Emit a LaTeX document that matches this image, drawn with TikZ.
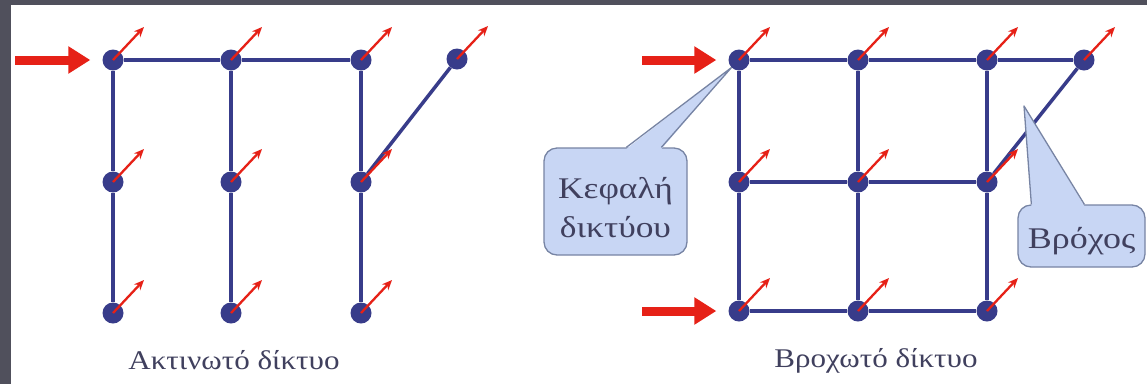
\documentclass[tikz,border=0pt]{standalone}
\usepackage{fontspec}
\usepackage{graphicx}
\setmainfont{Liberation Serif}
\usetikzlibrary{arrows.meta,calc}
\definecolor{navy}{HTML}{383C8A}
\definecolor{redc}{HTML}{E62117}
\definecolor{framec}{HTML}{50505C}
\definecolor{callfill}{HTML}{C8D6F4}
\definecolor{callline}{HTML}{7784A4}
\definecolor{txt}{HTML}{40405E}
\newcommand{\widen}[2]{\scalebox{#1}[1]{#2}}
\begin{document}
\begin{tikzpicture}[x=1pt,y=-1pt,
 dot/.style={circle,fill=navy,inner sep=0pt,minimum size=21pt},
 wire/.style={draw=navy,line width=3.5pt},
 spark/.style={draw=redc,line width=2.3pt,-{Stealth[length=10pt,width=8.5pt]}},
 feed/.style={draw=redc,line width=9pt,-{Triangle[length=22pt,width=26pt]},shorten >=12pt},
 bubble/.style={draw=callline,line width=1.3pt,fill=callfill,rounded corners=13pt,text=txt,font=\fontsize{30}{39}\selectfont,align=center,inner sep=0pt},
 ptrfill/.style={fill=callfill},
 ptrline/.style={draw=callline,line width=1.3pt,line join=round},
 caption/.style={text=txt,font=\fontsize{27}{30}\selectfont,anchor=base}]
\useasboundingbox (0,0) rectangle (1147,384);
\fill[white] (0,0) rectangle (1147,384);
\fill[framec] (0,0) rectangle (11,384);
\fill[framec] (0,0) rectangle (1147,5);

% left network nodes
\node[dot] (ln11) at (113,60) {};
\node[dot] (ln12) at (231,60) {};
\node[dot] (ln13) at (361,60) {};
\node[dot] (ln14) at (457,59) {};
\node[dot] (ln21) at (113,182) {};
\node[dot] (ln22) at (231,182) {};
\node[dot] (ln23) at (361,182) {};
\node[dot] (ln31) at (113,313) {};
\node[dot] (ln32) at (231,313) {};
\node[dot] (ln33) at (361,313) {};
% right network nodes
\node[dot] (rn11) at (739,60) {};
\node[dot] (rn12) at (858,60) {};
\node[dot] (rn13) at (987,60) {};
\node[dot] (rn14) at (1084,60) {};
\node[dot] (rn21) at (739,182) {};
\node[dot] (rn22) at (858,182) {};
\node[dot] (rn23) at (987,182) {};
\node[dot] (rn31) at (739,311) {};
\node[dot] (rn32) at (858,311) {};
\node[dot] (rn33) at (987,311) {};

% left wires
\draw[wire] (ln11) -- (ln12);
\draw[wire] (ln12) -- (ln13);
\draw[wire] (ln11) -- (ln21);
\draw[wire] (ln21) -- (ln31);
\draw[wire] (ln12) -- (ln22);
\draw[wire] (ln22) -- (ln32);
\draw[wire] (ln13) -- (ln23);
\draw[wire] (ln23) -- (ln33);
\draw[wire] (ln14) -- (ln23);
% right wires
\draw[wire] (rn11) -- (rn12);
\draw[wire] (rn12) -- (rn13);
\draw[wire] (rn13) -- (rn14);
\draw[wire] (rn21) -- (rn22);
\draw[wire] (rn22) -- (rn23);
\draw[wire] (rn31) -- (rn32);
\draw[wire] (rn32) -- (rn33);
\draw[wire] (rn11) -- (rn21);
\draw[wire] (rn21) -- (rn31);
\draw[wire] (rn12) -- (rn22);
\draw[wire] (rn22) -- (rn32);
\draw[wire] (rn13) -- (rn23);
\draw[wire] (rn23) -- (rn33);
\draw[wire] (rn14) -- (rn23);

% red outgoing arrows
\foreach \n in {ln11,ln12,ln13,ln14,ln21,ln22,ln23,ln31,ln32,ln33,
                rn11,rn12,rn13,rn14,rn21,rn22,rn23,rn31,rn32,rn33}
  \draw[spark] (\n.center) -- ++(31,-33);

% feeding arrows
\coordinate (inL) at (15,60);
\coordinate (inRa) at (642,60);
\coordinate (inRb) at (642,311);
\draw[feed] (inL) -- (ln11);
\draw[feed] (inRa) -- (rn11);
\draw[feed] (inRb) -- (rn31);

% callouts
\node[bubble,minimum width=143pt,minimum height=107pt] (head) at (615.5,201.5)
  {\raisebox{0pt}[71pt][0pt]{\begin{tabular}[b]{@{}c@{}}\widen{1.18}{Κεφαλή}\\\widen{1.18}{δικτύου}\end{tabular}}};
\fill[ptrfill] ($(head.north west)+(83,1.6)$) -- (rn11.south west) -- ($(head.north west)+(118,1.6)$) -- cycle;
\draw[ptrline] ($(head.north west)+(83,0)$) -- (rn11.south west) -- ($(head.north west)+(118,0)$);

\node[bubble,minimum width=127pt,minimum height=62pt] (loop) at (1081.5,236)
  {\raisebox{0pt}[24pt][0pt]{\widen{1.2}{Βρόχος}}};
\coordinate (looptip) at (1024,106);
\fill[ptrfill] ($(loop.north west)+(14,1.6)$) -- (looptip) -- ($(loop.north west)+(67,1.6)$) -- cycle;
\draw[ptrline] ($(loop.north west)+(14,0)$) -- (looptip) -- ($(loop.north west)+(67,0)$);

% captions
\node[caption] (capL) at (234,369) {\widen{1.15}{Ακτινωτό δίκτυο}};
\node[caption] (capR) at (876,367) {\widen{1.15}{Βροχωτό δίκτυο}};
\end{tikzpicture}
\end{document}
